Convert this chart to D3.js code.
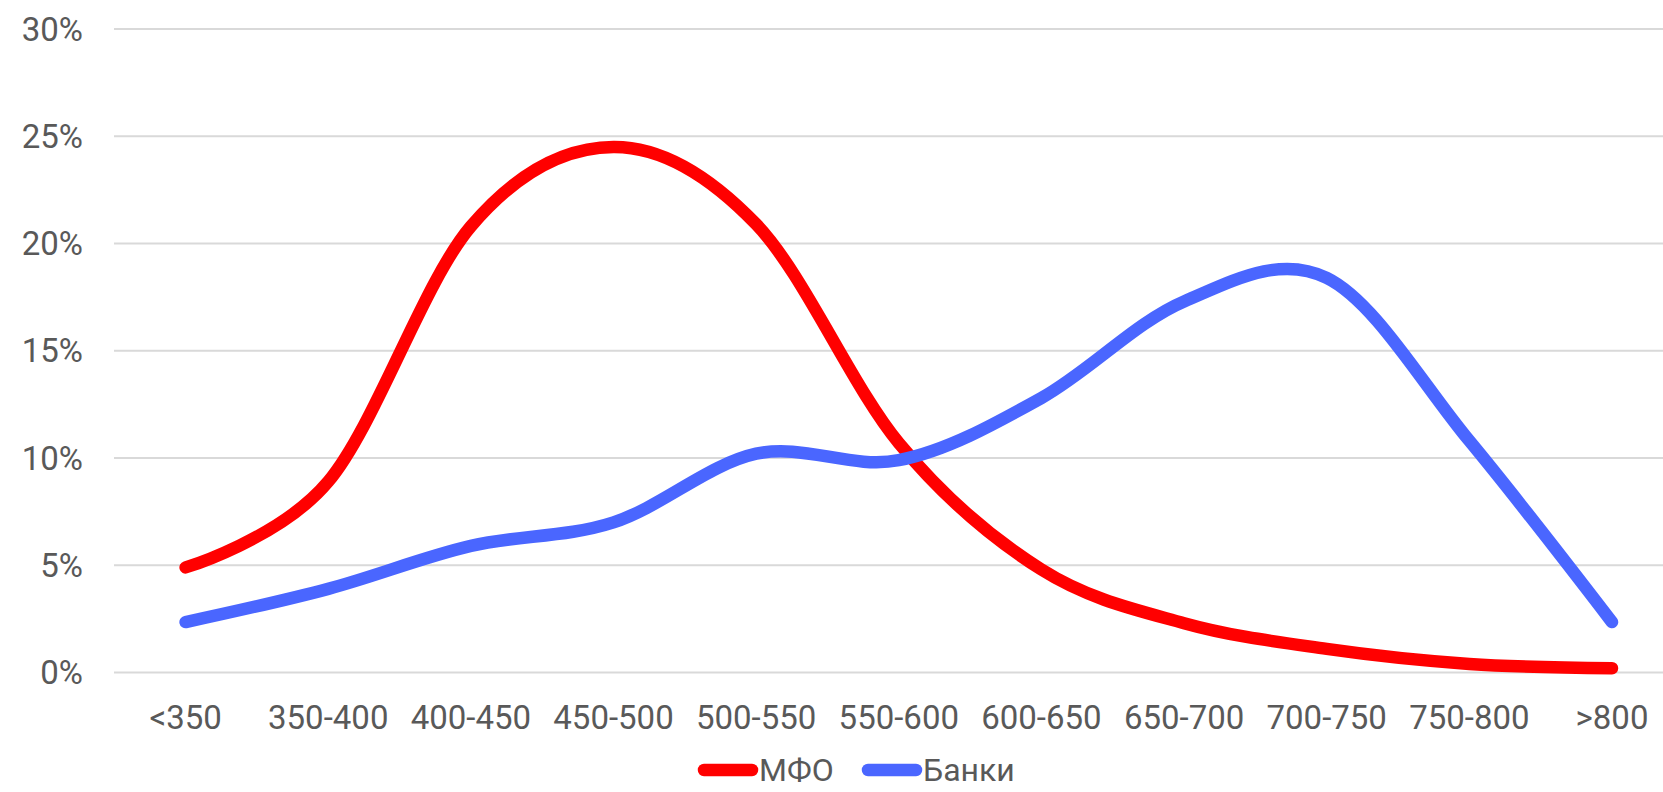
<!DOCTYPE html>
<html>
<head>
<meta charset="utf-8">
<script src="https://cdn.jsdelivr.net/npm/d3@7"></script>
<style>
  html, body { margin: 0; padding: 0; background: #fff; }
  svg { display: block; font-family: Roboto, "Noto Sans", sans-serif; }
</style>
</head>
<body>
<svg id="chart" width="1663" height="792"></svg>
<script>
// categories (score bands)
const categories = ["<350", "350-400", "400-450", "450-500", "500-550", "550-600",
                    "600-650", "650-700", "700-750", "750-800", ">800"];
// share of loans, %
const mfoValues = [4.9, 8.9, 20.8, 24.5, 20.9, 10.7, 4.8, 2.3, 1.1, 0.4, 0.2];
const bankValues = [2.35, 3.9, 5.9, 7.0, 10.2, 9.9, 12.8, 17.3, 18.4, 10.8, 2.35];
const yTicks = [0, 5, 10, 15, 20, 25, 30];
const seriesNames = ["МФО", "Банки"];
const seriesColors = ["#ff0000", "#4a66ff"];

const svg = d3.select("#chart");

// point scale so first/last labels sit at the band centres
const x = d3.scalePoint()
    .domain(categories)
    .range([185.6, 1612]);

const y = d3.scaleLinear()
    .domain([0, 30])
    .range([672.5, 29]);

// horizontal gridlines
svg.append("g")
    .selectAll("line")
    .data(yTicks)
    .enter().append("line")
    .attr("x1", 114)
    .attr("x2", 1663)
    .attr("y1", d => y(d))
    .attr("y2", d => y(d))
    .attr("stroke", "#d9d9d9")
    .attr("stroke-width", 2);

// y tick labels
svg.append("g")
    .selectAll("text")
    .data(yTicks)
    .enter().append("text")
    .attr("x", 83)
    .attr("y", d => y(d))
    .attr("dy", "0.35em")
    .attr("text-anchor", "end")
    .attr("fill", "#595959")
    .style("font-size", "33px")
    .text(d => d + "%");

// x tick labels
svg.append("g")
    .selectAll("text")
    .data(categories)
    .enter().append("text")
    .attr("x", d => x(d))
    .attr("y", 717)
    .attr("dy", "0.35em")
    .attr("text-anchor", "middle")
    .attr("fill", "#595959")
    .style("font-size", "33px")
    .text(d => d);

// smoothed lines (Excel-like)
const line = d3.line()
    .x((d, i) => x(categories[i]))
    .y(d => y(d))
    .curve(d3.curveCardinal.tension(0));

[mfoValues, bankValues].forEach((vals, i) => {
    svg.append("path")
        .datum(vals)
        .attr("d", line)
        .attr("fill", "none")
        .attr("stroke", seriesColors[i])
        .attr("stroke-width", 12.5)
        .attr("stroke-linecap", "round")
        .attr("stroke-linejoin", "round");
});

// legend
const legendItems = [
    { name: seriesNames[0], color: seriesColors[0], x: 704 },
    { name: seriesNames[1], color: seriesColors[1], x: 868 }
];
const legend = svg.append("g");
legendItems.forEach(item => {
    legend.append("line")
        .attr("x1", item.x)
        .attr("x2", item.x + 48)
        .attr("y1", 770)
        .attr("y2", 770)
        .attr("stroke", item.color)
        .attr("stroke-width", 12.5)
        .attr("stroke-linecap", "round");
    legend.append("text")
        .attr("x", item.x + 55)
        .attr("y", 770)
        .attr("dy", "0.35em")
        .attr("fill", "#595959")
        .style("font-size", "32px")
        .text(item.name);
});
</script>
</body>
</html>
